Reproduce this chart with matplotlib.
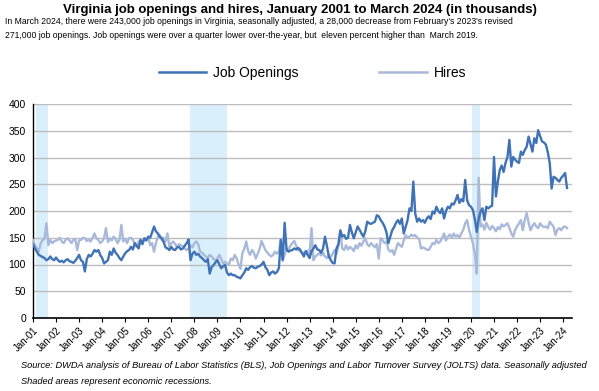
import matplotlib
matplotlib.use("Agg")
import matplotlib.pyplot as plt
import numpy as np
from matplotlib.lines import Line2D

# ---------------- data (thousands, monthly Jan-2001 .. Mar-2024) ----------------
openings = [
    138, 130, 124, 118, 116, 114, 112, 108, 110, 115, 110, 108,   # 2001
    113, 108, 105, 107, 104, 108, 110, 106, 105, 103, 107, 112,   # 2002
    118, 108, 105, 87, 110, 118, 115, 120, 127, 124, 127, 118,    # 2003
    112, 102, 105, 108, 124, 118, 130, 122, 118, 112, 108, 115,   # 2004
    121, 125, 127, 133, 128, 140, 135, 130, 146, 138, 149, 145,   # 2005
    152, 150, 160, 171, 162, 158, 152, 149, 142, 132, 130, 127,   # 2006
    133, 128, 127, 132, 133, 128, 130, 135, 140, 147, 108, 120,   # 2007
    124, 118, 120, 115, 112, 108, 105, 110, 83, 95, 99, 104,      # 2008
    108, 100, 93, 97, 99, 85, 80, 83, 80, 80, 77, 76,             # 2009
    74, 80, 85, 93, 90, 95, 97, 94, 93, 96, 97, 100,              # 2010
    105, 95, 90, 80, 85, 87, 83, 86, 93, 146, 108, 178,           # 2011
    128, 124, 126, 127, 130, 128, 131, 128, 122, 115, 125, 118,   # 2012
    112, 125, 130, 136, 128, 127, 122, 130, 152, 135, 115, 108,   # 2013
    103, 102, 130, 138, 164, 152, 155, 148, 150, 174, 160, 149,   # 2014
    160, 171, 165, 158, 152, 162, 180, 177, 176, 178, 180, 192,   # 2015
    190, 183, 178, 171, 160, 140, 152, 164, 170, 178, 183, 176,   # 2016
    186, 158, 170, 183, 205, 200, 255, 195, 180, 186, 180, 183,   # 2017
    178, 186, 190, 185, 199, 195, 208, 200, 196, 205, 186, 200,   # 2018
    208, 205, 214, 212, 220, 230, 215, 222, 218, 258, 220, 211,   # 2019
    208, 202, 185, 161, 185, 199, 205, 183, 208, 205, 208, 210,   # 2020
    301, 227, 255, 277, 285, 273, 290, 301, 333, 283, 301, 296,   # 2021
    292, 290, 311, 305, 314, 320, 339, 325, 311, 336, 327, 351,   # 2022
    340, 330, 328, 324, 310, 290, 242, 264, 262, 258, 255, 262,   # 2023
    266, 271, 243,                                                # 2024
]
hires = [
    146, 136, 130, 124, 140, 145, 149, 177, 136, 146, 140, 143,   # 2001
    145, 146, 150, 143, 140, 146, 149, 145, 140, 146, 148, 127,   # 2002
    145, 146, 150, 149, 144, 146, 143, 150, 158, 149, 146, 140,   # 2003
    143, 150, 168, 142, 149, 145, 152, 148, 140, 146, 174, 143,   # 2004
    148, 140, 149, 150, 146, 138, 133, 143, 146, 140, 149, 145,   # 2005
    152, 136, 140, 124, 140, 152, 155, 146, 150, 143, 158, 133,   # 2006
    140, 143, 138, 133, 138, 136, 134, 130, 127, 130, 136, 132,   # 2007
    140, 143, 138, 124, 122, 118, 115, 112, 118, 115, 110, 108,   # 2008
    112, 118, 110, 102, 105, 102, 100, 111, 108, 118, 112, 100,   # 2009
    92, 121, 130, 143, 125, 118, 127, 122, 111, 120, 130, 144,    # 2010
    135, 127, 122, 118, 115, 118, 124, 120, 124, 147, 108, 118,   # 2011
    130, 128, 135, 140, 144, 135, 127, 125, 121, 122, 124, 126,   # 2012
    120, 168, 108, 115, 118, 121, 117, 122, 115, 112, 118, 114,   # 2013
    120, 127, 120, 135, 161, 130, 127, 136, 128, 133, 130, 125,   # 2014
    136, 130, 140, 135, 143, 149, 138, 134, 140, 136, 132, 138,   # 2015
    111, 149, 145, 140, 143, 128, 124, 127, 118, 130, 140, 136,   # 2016
    133, 145, 155, 150, 152, 156, 153, 155, 150, 148, 130, 132,   # 2017
    130, 128, 127, 133, 140, 138, 146, 140, 143, 150, 158, 145,   # 2018
    152, 156, 150, 158, 152, 155, 150, 158, 165, 177, 183, 165,   # 2019
    152, 140, 120, 83, 262, 171, 175, 165, 178, 170, 165, 172,    # 2020
    168, 162, 170, 166, 175, 171, 174, 177, 168, 158, 152, 165,   # 2021
    171, 177, 183, 164, 183, 196, 178, 164, 172, 177, 171, 168,   # 2022
    177, 172, 170, 171, 168, 180, 175, 171, 155, 165, 168, 164,   # 2023
    170, 171, 168,                                                # 2024
]
start_year = 2001
# recessions as (start month index, end month index) from Jan-2001
recessions = [(1.5, 8.0), (81.5, 101.0), (228.5, 232.5)]
tick_labels = [f"Jan-{y % 100:02d}" for y in range(2001, 2025)]
yticks = [0, 50, 100, 150, 200, 250, 300, 350, 400]

# ---------------- styling ----------------
C_OPEN = "#3F73B6"
C_HIRE = "#A9B9DA"
C_SHADE = "#D9EFFC"
C_GRID = "#BDBDBD"
SANS = ["Liberation Sans", "DejaVu Sans"]

W, H = 599, 391
fig = plt.figure(figsize=(W / 100, H / 100), dpi=100)
fig.patch.set_facecolor("white")

ax = fig.add_axes([33 / W, 1 - 318 / H, (572 - 33) / W, (318 - 104) / H])
x = np.arange(len(openings))

for a, b in recessions:
    ax.axvspan(a, b, color=C_SHADE, lw=0, zorder=0)

for v in yticks[1:]:
    ax.axhline(v, color=C_GRID, lw=1.0, zorder=1)

ax.plot(x, hires, color=C_HIRE, lw=1.7, zorder=3, solid_joinstyle="round")
ax.plot(x, openings, color=C_OPEN, lw=1.7, zorder=4, solid_joinstyle="round")

ax.set_xlim(0, 280.6)
ax.set_ylim(0, 400)
ax.set_yticks(yticks)
ax.set_yticklabels([str(v) for v in yticks], fontsize=7.5, family=SANS)
ax.tick_params(axis="y", length=0, pad=5)
ax.set_xticks([12 * i for i in range(len(tick_labels))])
ax.set_xticklabels(tick_labels, rotation=45, ha="right", rotation_mode="anchor",
                   fontsize=7, family=SANS)
ax.tick_params(axis="x", length=3, width=0.8, pad=2, direction="out")
for s in ["top", "right"]:
    ax.spines[s].set_visible(False)
ax.spines["left"].set_color("black")
ax.spines["bottom"].set_color("black")
ax.spines["left"].set_linewidth(1.0)
ax.spines["bottom"].set_linewidth(1.2)

# title and subtitle
fig.text(300 / W, 1 - 10 / H, "Virginia job openings and hires, January 2001 to March 2024 (in thousands)",
         ha="center", va="center", fontsize=9.5, fontweight="bold", family=SANS)
fig.text(5 / W, 1 - 21 / H,
         "In March 2024, there were 243,000 job openings in Virginia, seasonally adjusted, a 28,000 decrease from February's 2023's revised",
         ha="left", va="center", fontsize=6.2, family=SANS)
fig.text(5 / W, 1 - 36 / H,
         "271,000 job openings. Job openings were over a quarter lower over-the-year, but  eleven percent higher than  March 2019.",
         ha="left", va="center", fontsize=6.2, family=SANS)

# legend
handles = [Line2D([], [], color=C_OPEN, lw=1.8), Line2D([], [], color=C_HIRE, lw=1.8)]
fig.legend(handles, ["Job Openings", "Hires"], loc="center", bbox_to_anchor=(312.5 / W, 1 - 73 / H),
           ncol=2, frameon=False, handlelength=3.4, handletextpad=0.5,
           columnspacing=5.8, prop={"family": SANS, "size": 10})

# source
fig.text(21 / W, 1 - 365 / H,
         "Source: DWDA analysis of Bureau of Labor Statistics (BLS), Job Openings and Labor Turnover Survey (JOLTS) data. Seasonally adjusted",
         ha="left", va="center", fontsize=6.7, style="italic", family=SANS)
fig.text(21 / W, 1 - 381 / H, "Shaded areas represent economic recessions.",
         ha="left", va="center", fontsize=6.7, style="italic", family=SANS)

fig.savefig("out.png", dpi=100, facecolor="white")
